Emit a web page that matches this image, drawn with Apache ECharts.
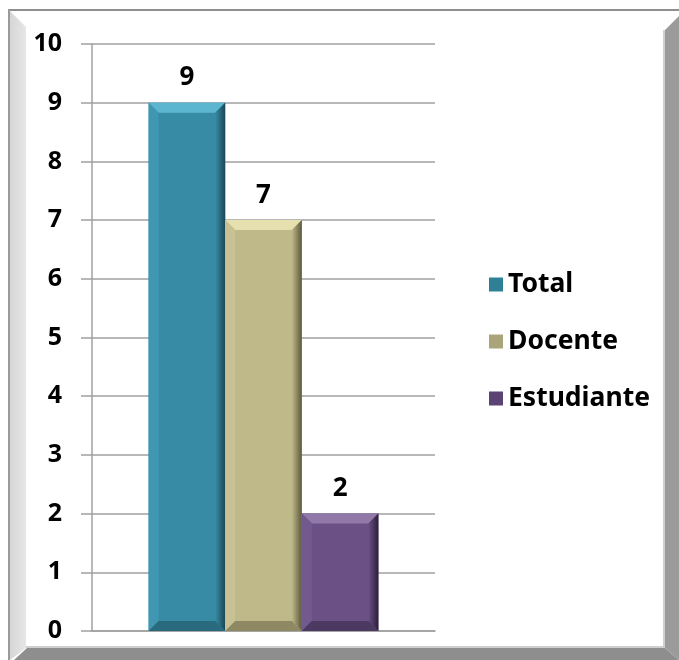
<!DOCTYPE html>
<html>
<head>
<meta charset="utf-8">
<script src="https://cdn.jsdelivr.net/npm/echarts@6/dist/echarts.min.js"></script>
<style>
html,body{margin:0;padding:0;background:#fff;}
#chart{width:679px;height:660px;}
</style>
</head>
<body>
<div id="chart"></div>
<script>
const categories = [''];
const seriesNames = ['Total', 'Docente', 'Estudiante'];
const totalValues = [9];
const docenteValues = [7];
const estudianteValues = [2];
const yTicks = [0, 1, 2, 3, 4, 5, 6, 7, 8, 9, 10];

const FONT = '"Noto Sans", "Open Sans", sans-serif';

const palettes = [
  { base: '#388ba5', top: '#5db6cf', left: '#3f97b2', right: '#1b4654', bottom: '#2a6a7e', legend: '#2f7f97' },
  { base: '#bfb888', top: '#e6dfae', left: '#c8c194', right: '#5d583d', bottom: '#8f8963', legend: '#aaa47a' },
  { base: '#6a5085', top: '#9079a8', left: '#735a8e', right: '#2a1f37', bottom: '#4c3962', legend: '#5b4474' }
];
const valuesList = [totalValues, docenteValues, estudianteValues];
const GAP_RATIO = 0.33;
const B = 10;

function makeRender(si) {
  const pal = palettes[si];
  return function (params, api) {
    const v = api.value(1);
    const c0 = api.coord([api.value(0), 0]);
    const c1 = api.coord([api.value(0), v]);
    const band = api.size([1, 0])[0];
    const bw = band * (1 - GAP_RATIO) / 3;
    const x0 = c0[0] - 1.5 * bw + si * bw;
    const x1 = x0 + bw;
    const yb = c0[1];
    const yt = c1[1];
    const b = Math.min(B, (yb - yt) / 2);
    return {
      type: 'group',
      children: [
        { type: 'rect', shape: { x: x0, y: yt, width: bw, height: yb - yt }, style: { fill: pal.base } },
        { type: 'polygon', shape: { points: [[x0, yt], [x1, yt], [x1 - b, yt + b], [x0 + b, yt + b]] }, style: { fill: pal.top } },
        { type: 'polygon', shape: { points: [[x0, yt], [x0 + b, yt + b], [x0 + b, yb - b], [x0, yb]] }, style: { fill: pal.left } },
        { type: 'polygon', shape: { points: [[x1, yt], [x1, yb], [x1 - b, yb - b], [x1 - b, yt + b]] },
          style: { fill: new echarts.graphic.LinearGradient(0, 0, 1, 0, [{ offset: 0, color: pal.base }, { offset: 1, color: pal.right }]) } },
        { type: 'polygon', shape: { points: [[x0, yb], [x0 + b, yb - b], [x1 - b, yb - b], [x1, yb]] }, style: { fill: pal.bottom } },
        { type: 'text', style: { text: String(v), x: (x0 + x1) / 2, y: yt - 12, align: 'center', verticalAlign: 'bottom',
            font: 'bold 26px ' + FONT, fill: '#000' } }
      ]
    };
  };
}

const series = seriesNames.map((name, i) => ({
  name: name,
  type: 'custom',
  renderItem: makeRender(i),
  data: valuesList[i].map((v, k) => [k, v]),
  encode: { x: 0, y: 1 },
  itemStyle: { color: palettes[i].legend }
}));

const chart = echarts.init(document.getElementById('chart'), null, { renderer: 'canvas' });
chart.setOption({
  animation: false,
  backgroundColor: '#ffffff',
  color: palettes.map(p => p.legend),
  grid: { left: 92, right: 244, top: 44, bottom: 29, containLabel: false },
  xAxis: {
    type: 'category',
    data: categories,
    axisLine: { show: true, lineStyle: { color: '#a0a0a0', width: 1.5 } },
    axisTick: { show: false },
    axisLabel: { show: false }
  },
  yAxis: {
    type: 'value',
    min: yTicks[0],
    max: yTicks[yTicks.length - 1],
    interval: 1,
    axisLine: { show: true, lineStyle: { color: '#a0a0a0', width: 1.5 } },
    axisTick: { show: true, length: 11, lineStyle: { color: '#a0a0a0', width: 1.5 } },
    splitLine: { show: true, lineStyle: { color: '#a0a0a0', width: 1.5 } },
    axisLabel: {
      margin: 30,
      fontFamily: FONT,
      fontWeight: 'bold',
      fontSize: 25,
      color: '#000'
    }
  },
  legend: {
    orient: 'vertical',
    left: 484,
    top: 266,
    itemWidth: 14,
    itemHeight: 14,
    itemGap: 30,
    icon: 'rect',
    textStyle: { fontFamily: FONT, fontWeight: 'bold', fontSize: 26.5, color: '#000', padding: [0, 0, 0, 0] },
    data: seriesNames
  },
  graphic: [
    { type: 'rect', z: -10, shape: { x: 8, y: 9, width: 671, height: 2 }, style: { fill: '#8f8f8f' } },
    { type: 'rect', z: -10, shape: { x: 8, y: 9, width: 2, height: 651 }, style: { fill: '#9a9a9a' } },
    { type: 'polygon', z: -10, shape: { points: [[10, 11], [26, 27], [26, 648], [10, 660]] },
      style: { fill: new echarts.graphic.LinearGradient(0, 0, 1, 0, [{ offset: 0, color: '#d6d6d6' }, { offset: 1, color: '#e6e6e6' }]) } },
    { type: 'polygon', z: -10, shape: { points: [[14, 660], [27, 648], [665, 648], [679, 660]] }, style: { fill: '#8e8e8e' } },
    { type: 'polygon', z: -10, shape: { points: [[665, 30], [679, 16], [679, 660], [665, 648]] }, style: { fill: '#9b9b9b' } },
    { type: 'rect', z: -10, shape: { x: 663, y: 30, width: 2, height: 618 }, style: { fill: '#cfcfcf' } },
    { type: 'rect', z: -10, shape: { x: 26, y: 646, width: 639, height: 2 }, style: { fill: '#cfcfcf' } }
  ],
  series: series
});
</script>
</body>
</html>
